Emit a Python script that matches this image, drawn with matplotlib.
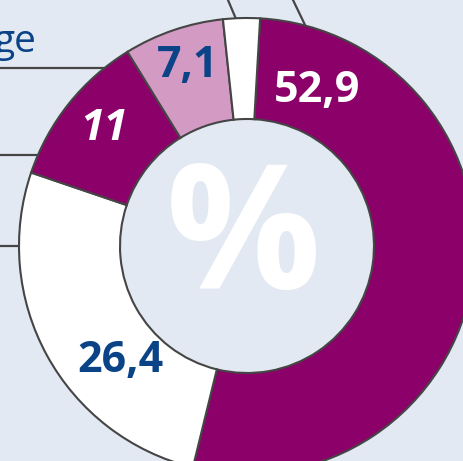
import matplotlib.pyplot as plt

# shares in percent, clockwise from the top
values = [52.9, 26.4, 11, 7.1, 2.6]
labels = ["52,9", "26,4", "11", "7,1", ""]
colors = ["#8c0069", "#ffffff", "#8c0069", "#d39ac4", "#ffffff"]

W, H = 463, 461
bg = "#e3e9f2"
edge = "#454545"
blue = "#0b4387"
cx, cy = 247, H - 246
R, ring = 228, 101

fig = plt.figure(figsize=(W / 100, H / 100), dpi=100, facecolor=bg)
ax = fig.add_axes([0, 0, 1, 1])
ax.set_facecolor(bg)

# leader lines coming in from the left and the top
for y in [68, 155, 246]:
    dy = (H - y) - cy
    x_end = cx - (R ** 2 - dy ** 2) ** 0.5
    ax.plot([0, x_end], [H - y, H - y], color=edge, lw=1.6, solid_capstyle="butt", zorder=0)
ax.plot([228, 236], [H, H - 19], color=edge, lw=1.6, zorder=0)
ax.plot([293, 306], [H, H - 27], color=edge, lw=1.6, zorder=0)

ax.pie(values, colors=colors, startangle=86.7, counterclock=False,
       radius=R, center=(cx, cy),
       wedgeprops=dict(width=ring, edgecolor=edge, linewidth=1.5))

ax.text(243, H - 243, "%", fontsize=124, fontweight="bold", family="Open Sans",
        color="white", ha="center", va="center")

txt = dict(fontsize=31, fontweight="bold", family="Open Sans", ha="center", va="center")
ax.text(317, H - 90, labels[0], color="white", **txt)
ax.text(120, H - 360, labels[1], color=blue, **txt)
ax.text(104, H - 128, labels[2], color="white", style="italic", **txt)
ax.text(188, H - 66, labels[3], color=blue, **txt)

ax.text(-7, H - 52, "ge", fontsize=28, fontweight="medium", family="Open Sans",
        color=blue, ha="left", va="baseline")

ax.set_xlim(0, W)
ax.set_ylim(0, H)
ax.set_aspect("auto")
ax.axis("off")

fig.savefig("out.png", dpi=100, facecolor=bg)
